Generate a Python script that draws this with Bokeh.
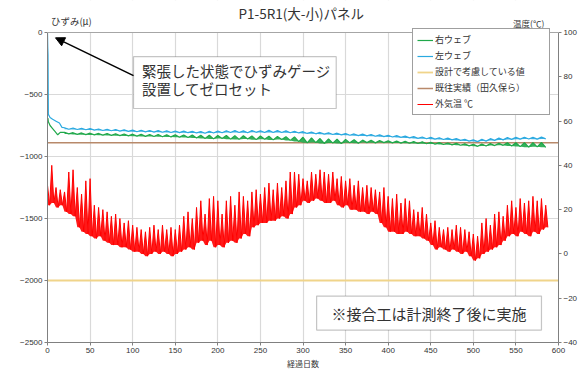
import numpy as np
from bokeh.plotting import figure
from bokeh.models import (Range1d, LinearAxis, Legend, LegendItem, Label,
                          BoxAnnotation, Arrow, NormalHead, FixedTicker, Span)
from bokeh.embed import file_html
from bokeh.resources import INLINE

JP = "Noto Sans CJK JP"
NUM = "Liberation Sans"

# ---------------- data ----------------
title_text = "P1-5R1(大-小)パネル"
series_names = ["右ウェブ", "左ウェブ", "設計で考慮している値", "既往実績（田久保ら）", "外気温 ℃"]

x_ticks = list(range(0, 601, 50))
y_ticks = [-2500, -2000, -1500, -1000, -500, 0]
t_ticks = [-40, -20, 0, 20, 40, 60, 80, 100]

design_value = -2000
past_record = -890

# left web (blue): initial part
blue_head_days = [0, 0.3, 0.6, 1.0, 3, 6, 10, 14, 17]
blue_head_vals = [0, -120, -180, -660, -685, -700, -715, -730, -765]
# right web (green): initial part
green_head_days = [0.5, 1, 3, 6, 9, 12, 15]
green_head_vals = [-690, -720, -750, -775, -800, -825, -805]

# strain every 10 days (upper / lower envelope of the noisy record)
strain_days = list(range(20, 581, 10))
blue_hi = [-768, -770, -772, -775, -778, -780, -782, -785, -787, -788,
           -790, -791, -792, -794, -795, -797, -798, -796, -794, -792,
           -790, -793, -790, -792, -788, -790, -792, -796, -800, -803,
           -806, -809, -812, -815, -818, -820, -823, -826, -829, -832,
           -836, -840, -843, -846, -849, -852, -856, -862, -866, -862,
           -856, -852, -848, -846, -845, -846, -844]
blue_lo = [-780, -782, -784, -787, -790, -792, -795, -797, -800, -801,
           -803, -804, -806, -807, -808, -810, -812, -810, -808, -806,
           -806, -808, -805, -807, -806, -806, -808, -810, -814, -817,
           -820, -823, -826, -829, -832, -834, -837, -840, -843, -846,
           -850, -854, -857, -860, -863, -866, -870, -876, -880, -876,
           -870, -866, -862, -860, -859, -860, -858]
green_hi = [-805, -808, -810, -812, -814, -815, -817, -818, -820, -821,
            -822, -823, -824, -825, -826, -827, -828, -829, -830, -831,
            -832, -833, -834, -835, -836, -838, -840, -842, -845, -850,
            -855, -858, -860, -862, -865, -868, -870, -872, -874, -876,
            -878, -880, -882, -885, -888, -891, -894, -898, -902, -900,
            -896, -893, -890, -889, -888, -888, -887]
green_lo = [-818, -822, -824, -826, -828, -830, -832, -834, -836, -838,
            -839, -841, -842, -844, -846, -850, -855, -858, -855, -860,
            -862, -858, -864, -860, -866, -862, -870, -880, -890, -888,
            -895, -892, -896, -890, -893, -888, -890, -888, -890, -892,
            -893, -895, -897, -900, -903, -906, -909, -914, -918, -915,
            -912, -910, -915, -920, -925, -922, -926]

# outside air temperature every 5 days (upper / lower envelope)
temp_days = list(range(0, 586, 5))
temp_hi = [31, 40, 30, 29, 28, 37, 38, 30, 27, 33,
           34, 22, 21, 20, 19, 17, 18, 16, 14, 15,
           13, 12, 11, 10, 12, 13, 11, 13, 11, 12,
           11, 13, 17, 19, 16, 21, 24, 18, 25, 26,
           24, 18, 24, 26, 22, 28, 26, 24, 28, 29,
           27, 30, 32, 29, 32, 30, 33, 37, 37, 36,
           34, 33, 37, 36, 38, 37, 36, 37, 34, 35,
           33, 34, 31, 33, 30, 31, 30, 29, 28, 30,
           26, 25, 27, 23, 25, 24, 20, 19, 21, 18,
           14, 15, 12, 11, 12, 11, 13, 12, 11, 10,
           9, 8, 14, 16, 13, 18, 19, 17, 22, 24,
           21, 25, 23, 24, 26, 24, 25, 22]
temp_lo = [22, 23, 21, 22, 19, 18, 17, 12, 10, 9,
           8, 7, 8, 6, 5, 4, 4, 3, 3, 2,
           1, 1, 0, -1, 0, 1, 0, 1, 0, -1,
           0, 1, 2, 3, 2, 5, 6, 4, 6, 3,
           4, 3, 5, 6, 5, 7, 9, 8, 12, 13,
           14, 14, 15, 15, 16, 17, 16, 18, 21, 22,
           24, 23, 24, 25, 24, 23, 23, 24, 22, 21,
           22, 20, 20, 19, 19, 18, 19, 18, 14, 12,
           10, 10, 9, 9, 10, 9, 8, 8, 7, 6,
           4, 2, 3, 2, 1, 2, 1, 0, 1, -1,
           -3, -2, 0, 1, 2, 3, 4, 6, 8, 9,
           8, 10, 9, 8, 10, 9, 11, 12]

GREEN = "#1fa84a"
BLUE = "#2aa9e0"
YELLOW = "#f0d48a"
BROWN = "#b8896a"
RED = "#ff0000"


def zigzag(days, hi, lo, half_step):
    d = np.asarray(days, dtype=float)
    xs = np.empty(2 * len(d))
    ys = np.empty(2 * len(d))
    xs[0::2] = d
    xs[1::2] = d + half_step
    ys[0::2] = hi
    ys[1::2] = lo
    return xs, ys


# ---------------- layout geometry ----------------
FRAME_PX_PLOT = 310          # pixel height of the -2500..0 plotting box
HEADROOM_PX = 32             # room above the box for title and axis captions
y_min, y_max = y_ticks[0], y_ticks[-1]
t_min, t_max = t_ticks[0], t_ticks[-1]
y_top = y_max + HEADROOM_PX * (y_max - y_min) / FRAME_PX_PLOT
t_top = t_max + (y_top - y_max) * (t_max - t_min) / (y_max - y_min)

p = figure(width=580, height=372, x_range=Range1d(x_ticks[0], x_ticks[-1]),
           y_range=Range1d(y_min, y_top), output_backend="svg",
           toolbar_location=None, min_border_left=47, min_border_right=22,
           min_border_top=0, min_border_bottom=30)
p.extra_y_ranges = {"temp": Range1d(t_min, t_top)}
p.background_fill_color = "white"
p.border_fill_color = "white"
p.outline_line_color = None

p.xaxis.ticker = FixedTicker(ticks=x_ticks)
p.yaxis.ticker = FixedTicker(ticks=y_ticks)
p.yaxis.bounds = (y_min, y_max)
p.xgrid.ticker = FixedTicker(ticks=x_ticks)
p.ygrid.ticker = FixedTicker(ticks=y_ticks)
p.grid.grid_line_color = "#d9d9d9"
p.grid.grid_line_width = 1.2

for ax in (p.xaxis[0], p.yaxis[0]):
    ax.axis_line_color = "#808080"
    ax.major_tick_line_color = "#808080"
    ax.major_tick_out = 3
    ax.major_tick_in = 0
    ax.minor_tick_line_color = None
    ax.major_label_text_font = NUM
    ax.major_label_text_font_size = "8px"
    ax.major_label_text_color = "#333333"
    ax.major_label_standoff = 2

p.xaxis.axis_label = "経過日数"
p.xaxis.axis_label_text_font = JP
p.xaxis.axis_label_text_font_size = "8px"
p.xaxis.axis_label_text_font_style = "normal"
p.xaxis.axis_label_text_color = "#333333"
p.xaxis.axis_label_standoff = 2

rax = LinearAxis(y_range_name="temp", ticker=FixedTicker(ticks=t_ticks),
                 bounds=(t_min, t_max))
rax.axis_line_color = "#808080"
rax.major_tick_line_color = "#808080"
rax.major_tick_out = 3
rax.major_tick_in = 0
rax.minor_tick_line_color = None
rax.major_label_text_font = NUM
rax.major_label_text_font_size = "8px"
rax.major_label_text_color = "#333333"
rax.major_label_standoff = 2
p.add_layout(rax, "right")

# ---------------- glyphs ----------------
tx, ty = zigzag(temp_days, temp_hi, temp_lo, 2.5)
p.varea(x=tx, y1=ty, y2=np.asarray(temp_lo).repeat(2), y_range_name="temp",
        fill_color=RED, fill_alpha=0.9)
r_red = p.line(tx, ty, y_range_name="temp", line_color=RED, line_width=1)

r_yellow = p.line([x_ticks[0], x_ticks[-1]], [design_value, design_value],
                  line_color=YELLOW, line_width=1.8)
r_brown = p.line([x_ticks[0], x_ticks[-1]], [past_record, past_record],
                 line_color=BROWN, line_width=1.5)

gx, gy = zigzag(strain_days, green_hi, green_lo, 5)
p.varea(x=gx, y1=gy, y2=np.asarray(green_lo).repeat(2), fill_color=GREEN,
        fill_alpha=0.9)
gx = np.concatenate([green_head_days, gx])
gy = np.concatenate([green_head_vals, gy])
r_green = p.line(gx, gy, line_color=GREEN, line_width=1.2)

bx, by = zigzag(strain_days, blue_hi, blue_lo, 5)
p.varea(x=bx, y1=by, y2=np.asarray(blue_lo).repeat(2), fill_color=BLUE,
        fill_alpha=0.9)
bx = np.concatenate([blue_head_days, bx])
by = np.concatenate([blue_head_vals, by])
r_blue = p.line(bx, by, line_color=BLUE, line_width=1.2)

# white headroom above the plotting box, then its top border
p.add_layout(BoxAnnotation(bottom=y_max, fill_color="white", fill_alpha=1,
                           line_color=None))
p.add_layout(Span(location=y_max, dimension="width", line_color="#a6a6a6",
                  line_width=1))

# ---------------- legend ----------------
legend = Legend(items=[
    LegendItem(label=series_names[0], renderers=[r_green]),
    LegendItem(label=series_names[1], renderers=[r_blue]),
    LegendItem(label=series_names[2], renderers=[r_yellow]),
    LegendItem(label=series_names[3], renderers=[r_brown]),
    LegendItem(label=series_names[4], renderers=[r_red]),
], location=(365, 227))
legend.label_text_font = JP
legend.label_text_font_size = "9px"
legend.label_text_color = "#333333"
legend.border_line_color = "#404040"
legend.border_line_width = 1.2
legend.background_fill_color = "white"
legend.background_fill_alpha = 1
legend.glyph_width = 16
legend.glyph_height = 12
legend.label_height = 12
legend.label_width = 110
legend.label_standoff = 2
legend.spacing = 3
legend.padding = 4
legend.margin = 0
p.add_layout(legend, "center")

# ---------------- annotations ----------------
p.add_layout(Label(x=298, y=158, text=title_text, text_font=JP,
                   text_font_size="13.5px", text_color="#333333",
                   text_align="center", text_baseline="middle"))
p.add_layout(Label(x=4, y=94, text="ひずみ(μ)", text_font=JP,
                   text_font_size="9.5px", text_color="#333333",
                   text_align="left", text_baseline="middle"))
p.add_layout(Label(x=565, y=80, text="温度(℃)", text_font=JP,
                   text_font_size="8.5px", text_color="#333333",
                   text_align="center", text_baseline="middle"))

p.add_layout(BoxAnnotation(left=101, right=339, top=-195, bottom=-613,
                           fill_color="white", fill_alpha=1,
                           line_color="#404040", line_width=1.2))
p.add_layout(Label(x=111, y=-308, text="緊張した状態でひずみゲージ",
                   text_font=JP, text_font_size="14.5px", text_color="#333333",
                   text_align="left", text_baseline="middle"))
p.add_layout(Label(x=111, y=-453, text="設置してゼロセット",
                   text_font=JP, text_font_size="14.5px", text_color="#333333",
                   text_align="left", text_baseline="middle"))
p.add_layout(Arrow(end=NormalHead(size=9, fill_color="black",
                                  line_color="black"),
                   x_start=101, y_start=-348, x_end=9.4, y_end=-43,
                   line_color="black", line_width=1.5))

p.add_layout(BoxAnnotation(left=316, right=580, top=-2126, bottom=-2400,
                           fill_color="white", fill_alpha=1,
                           line_color="#404040", line_width=1.2))
p.add_layout(Label(x=448, y=-2263, text="※接合工は計測終了後に実施",
                   text_font=JP, text_font_size="15px", text_color="#333333",
                   text_align="center", text_baseline="middle"))

open("out.html", "w").write(file_html(p, INLINE))
